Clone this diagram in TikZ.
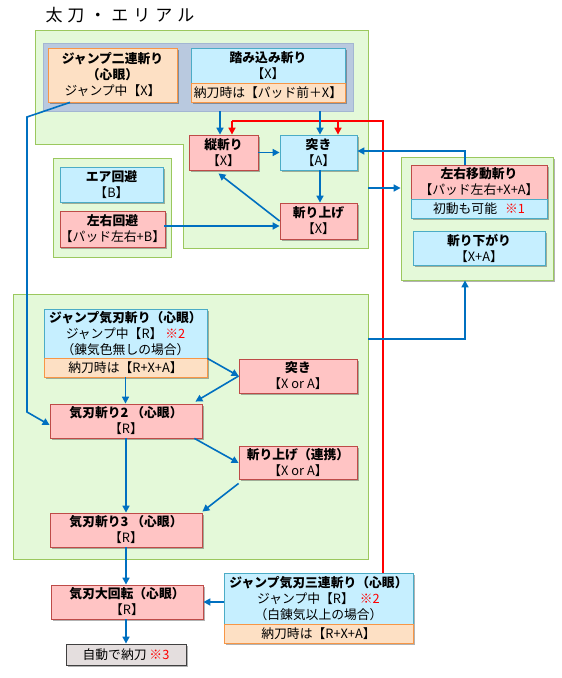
\documentclass[tikz,border=0pt]{standalone}
\usepackage{fontspec}
\setmainfont{Noto Sans CJK JP}
\usetikzlibrary{arrows.meta,shadows,calc}
\definecolor{gfill}{HTML}{E4F9D9}
\definecolor{gline}{HTML}{9BC85E}
\definecolor{pfill}{HTML}{B9C9DF}
\definecolor{pline}{HTML}{A3B6D2}
\definecolor{rfill}{HTML}{FFC4C4}
\definecolor{rline}{HTML}{BE4B48}
\definecolor{bfill}{HTML}{C6EFFF}
\definecolor{bline}{HTML}{4BACC6}
\definecolor{ofill}{HTML}{FDE0C4}
\definecolor{oline}{HTML}{F79646}
\definecolor{afill}{HTML}{E4DEDE}
\definecolor{arrblue}{HTML}{0070C0}
\begin{document}
\begin{tikzpicture}[x=1pt,y=-1pt,
  every node/.style={font=\fontsize{12.8}{16}\selectfont, inner sep=0pt, align=center},
  sz/.style 2 args={minimum width=#1pt, minimum height=#2pt},
  shd/.style={drop shadow={shadow xshift=1.5pt,shadow yshift=-1.5pt,opacity=0.3,fill=black}},
  greenbox/.style={draw=gline, fill=gfill, line width=0.8pt},
  panelbox/.style={draw=pline, fill=pfill, line width=0.8pt},
  pinkbox/.style={draw=rline, fill=rfill, line width=0.8pt, shd},
  bluebox/.style={draw=bline, fill=bfill, line width=0.8pt, shd},
  orangebox/.style={draw=oline, fill=ofill, line width=0.8pt, shd},
  graybox/.style={draw=black!75, fill=afill, line width=0.8pt, shd},
  arr/.style={draw=arrblue, line width=1.6pt, -{Triangle[length=7pt,width=7pt]}},
  redarr/.style={draw=red, line width=1.6pt, -{Triangle[length=7pt,width=7pt]}},
  redline/.style={draw=red, line width=1.6pt}
]
\useasboundingbox (0,0) rectangle (562,678);

% title
\node (title) at (120,15) {\fontsize{17}{20}\selectfont 太\hspace{5pt}刀\hspace{5pt}・\hspace{5pt}エ\hspace{5pt}リ\hspace{5pt}ア\hspace{5pt}ル};

% green regions
\path[greenbox] (35,30) -- (368,30) -- (368,248) -- (183,248) -- (183,144) -- (35,144) -- cycle;
\node[greenbox, sz={118}{99}] (g2) at (112,207.5) {};
\node[greenbox, sz={152}{123}, shd] (rpanel) at (477,218.5) {};
\node[greenbox, sz={355}{265}] (lgreen) at (190.5,426.5) {};

% top panel
\node[panelbox, sz={310}{68}] (panel) at (198,77) {};
\node[orangebox, sz={129}{54}] (nijuu) at (112.5,75) {\textbf{ジャンプ二連斬り}\\\textbf{（心眼）}\\ジャンプ中【X】};
\node[bluebox, sz={154}{35}] (fumi) at (268,65.5) {\textbf{踏み込み斬り}\\【X】};
\node[orangebox, sz={154}{19}] (fumisub) at (268,92.5) {納刀時は【パッド前＋X】};

% upper combo
\node[pinkbox, sz={69}{35}] (tate) at (223.5,152.5) {\textbf{縦斬り}\\【X】};
\node[bluebox, sz={77}{35}] (tsuki) at (318.5,152.5) {\textbf{突き}\\【A】};
\node[pinkbox, sz={77}{36}] (kiriage) at (318.5,221) {\textbf{斬り上げ}\\【X】};
\node[bluebox, sz={103}{35}] (air) at (111.5,184.5) {\textbf{エア回避}\\【B】};
\node[pinkbox, sz={103}{36}] (sayuu) at (112.5,229) {\textbf{左右回避}\\【パッド左右+B】};

% right panel
\node[pinkbox, sz={136}{34}] (idou) at (479,182) {\textbf{左右移動斬り}\\【パッド左右+X+A】};
\node[bluebox, sz={136}{19}] (idousub) at (479,208.5) {初動も可能\hspace{8pt}{\color{red}※1}};
\node[bluebox, sz={132}{34}] (sagari) at (479,248) {\textbf{斬り下がり}\\【X+A】};

% lower region
\node[bluebox, sz={163}{49}] (jkiha) at (125.5,333.5) {\textbf{ジャンプ気刃斬り（心眼）}\\ジャンプ中【R】 {\color{red}※2}\\（錬気色無しの場合）};
\node[orangebox, sz={163}{19}] (jkihasub) at (125.5,367.5) {納刀時は【R+X+A】};
\node[pinkbox, sz={118}{34}] (tsuki2) at (298,376) {\textbf{突き}\\【X or A】};
\node[pinkbox, sz={152}{34}] (kiha2) at (126,421) {\textbf{気刃斬り2 （心眼）}\\【R】};
\node[pinkbox, sz={118}{33}] (kiriage2) at (298,462.5) {\textbf{斬り上げ（連携）}\\【X or A】};
\node[pinkbox, sz={152}{34}] (kiha3) at (126,530) {\textbf{気刃斬り3 （心眼）}\\【R】};

% bottom
\node[pinkbox, sz={152}{34}] (daikai) at (127,602) {\textbf{気刃大回転（心眼）}\\【R】};
\node[bluebox, sz={189}{51}] (j3) at (318.5,598.5) {\textbf{ジャンプ気刃三連斬り（心眼）}\\ジャンプ中【R】\hspace{6pt}{\color{red}※2}\\（白錬気以上の場合）};
\node[orangebox, sz={189}{19}] (j3sub) at (318.5,633.5) {納刀時は【R+X+A】};
\node[graybox, sz={120}{21}] (auto) at (126,654.5) {自動で納刀 {\color{red}※3}};

% helper coordinates
\coordinate (r1) at (383,121);
\coordinate (r2) at (232,121);
\coordinate (r3) at (338,121);
\coordinate (gout) at (368,188);
\coordinate (lout) at (368,339);
\coordinate (lturn) at (465,339);
\coordinate (n1) at (27,117);
\coordinate (n2) at (27,412);
\coordinate (ta) at (220,111);
\coordinate (tb) at (320,111);
\coordinate (sy) at (164,226);
\coordinate (idt) at (465,165);

% red line
\draw[redline] (j3.north -| r1) -- (r1) -- (r2);
\draw[redarr] (r2) -- (r2 |- tate.north);
\draw[redarr] (r3) -- (r3 |- tsuki.north);

% blue arrows (top)
\draw[arr] (ta) -- (ta |- tate.north);
\draw[arr] (tb) -- (tb |- tsuki.north);
\draw[arr] (tate.east) -- (tsuki.west);
\draw[arr] (tb |- tsuki.south) -- (tb |- kiriage.north);
\draw[arr] (kiriage.west) -- ($(tate.south)+(-5,3)$);
\draw[arr] (sy) -- (sy -| kiriage.west);
\draw[arr] (idt) |- ($(tsuki.east)+(0,-1.5)$);
\draw[arr] (gout) -- (gout -| rpanel.west);
\draw[arr] (lout) -- (lturn) -- (lturn |- rpanel.south);

% long left connector
\draw[arr] ($(nijuu.south)+(-42.5,0)$) -- (n1) -- (n2) -- ($(kiha2.west)+(0,4)$);

% lower arrows
\draw[arr] (jkihasub.south) -- (jkihasub.south |- kiha2.north);
\draw[arr] (jkiha.south east) -- (tsuki2.west);
\draw[arr] (tsuki2.west) -- ($(kiha2.north east)+(-7,-2)$);
\draw[arr] ($(kiha2.south east)+(-8,0)$) -- ($(kiriage2.west)+(0,0.5)$);
\draw[arr] ($(kiriage2.south west)+(0,4)$) -- ($(kiha3.north east)+(0,-1)$);
\draw[arr] (kiha2.south) -- (kiha3.north);
\draw[arr] (kiha3.south) -- (daikai.north -| kiha3.south);
\draw[arr] (j3.west |- daikai.east) -- (daikai.east);
\draw[arr] (daikai.south -| auto.north) -- (auto.north);
\end{tikzpicture}
\end{document}
